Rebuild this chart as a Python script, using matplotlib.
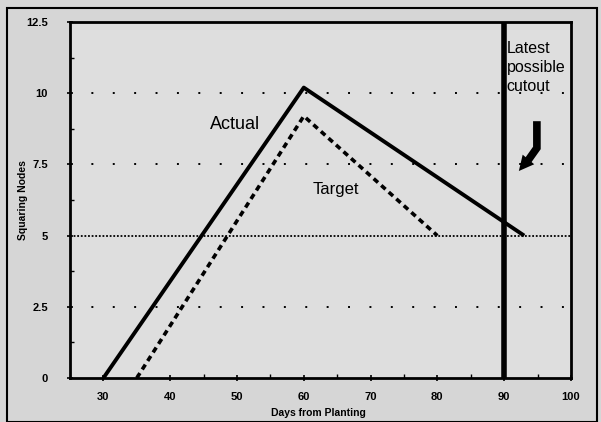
import matplotlib.pyplot as plt
from matplotlib.patches import Rectangle

plt.rcParams['font.family'] = ['Liberation Sans', 'DejaVu Sans']

# data
actual_days = [30, 60, 93]
actual_nodes = [0, 10.2, 5.0]
target_days = [35, 60, 80]
target_nodes = [0, 9.2, 5.0]
cutout_day = 90
threshold = 5
x_ticks = [30, 40, 50, 60, 70, 80, 90, 100]
y_ticks = [0, 2.5, 5, 7.5, 10, 12.5]
y_tick_labels = ['0', '2.5', '5', '7.5', '10', '12.5']
grid_levels = [2.5, 7.5, 10]

fig = plt.figure(figsize=(6.01, 4.22), dpi=100)
fig.patch.set_facecolor('#d6d6d6')
ax = fig.add_axes([0.1165, 0.1043, 0.8335, 0.8433])
ax.set_facecolor('#dedede')

# outer frame around the whole picture
fig.patches.append(Rectangle((7 / 601, 0.0), 590 / 601, 1 - 8 / 422,
                             transform=fig.transFigure, fill=False,
                             edgecolor='black', lw=1.5))

for lvl in grid_levels:
    ax.axhline(lvl, color='black', lw=1.4, linestyle=(0, (1, 10)), zorder=1)
ax.axhline(threshold, color='black', lw=1.3, linestyle=(0, (1, 1)), zorder=1)

ax.plot(actual_days, actual_nodes, color='black', lw=2.8, solid_capstyle='butt', zorder=3)
ax.plot(target_days, target_nodes, color='black', lw=2.6, linestyle=(0, (1.6, 1.2)), zorder=3)
ax.axvline(cutout_day, color='black', lw=4, zorder=4)

ax.text(45.9, 8.74, 'Actual', fontsize=13)
ax.text(61.3, 6.47, 'Target', fontsize=12)
ax.text(90.4, 11.85, 'Latest\npossible\ncutout', fontsize=11.5, va='top', ha='left',
        linespacing=1.35)

# bent arrow
ax.plot([94.9, 94.9, 93.6], [9.02, 8.08, 7.65], color='black', lw=5.5,
        solid_capstyle='butt', solid_joinstyle='miter', zorder=4)
ax.annotate('', xy=(92.2, 7.27), xytext=(93.9, 7.75),
            arrowprops=dict(arrowstyle='simple,head_length=0.9,head_width=0.9,tail_width=0.3',
                            color='black', lw=0, shrinkA=0, shrinkB=0,
                            mutation_scale=12), zorder=4)

ax.set_xlim(25, 100)
ax.set_ylim(0, 12.5)
ax.set_xticks(x_ticks)
ax.set_yticks(y_ticks)
ax.set_yticklabels(y_tick_labels)
ax.set_xticks([35, 45, 55, 65, 75, 85, 95], minor=True)
ax.set_yticks([1.25, 3.75, 6.25, 8.75, 11.25], minor=True)
ax.tick_params(axis='both', which='major', labelsize=8, length=4, width=1.2,
               direction='inout')
ax.tick_params(axis='both', which='minor', length=3, width=1, direction='in')
ax.tick_params(axis='x', pad=8)
ax.tick_params(axis='y', pad=14)
for lbl in ax.get_xticklabels() + ax.get_yticklabels():
    lbl.set_fontweight('bold')

for s in ax.spines.values():
    s.set_linewidth(2)

ax.set_xlabel('Days from Planting', fontsize=7.5, fontweight='bold')
ax.xaxis.set_label_coords(0.496, -0.084)
ax.set_ylabel('Squaring Nodes', fontsize=7.5, fontweight='bold')
ax.yaxis.set_label_coords(-0.084, 0.5)

fig.savefig('out.png', dpi=100, facecolor=fig.get_facecolor())
